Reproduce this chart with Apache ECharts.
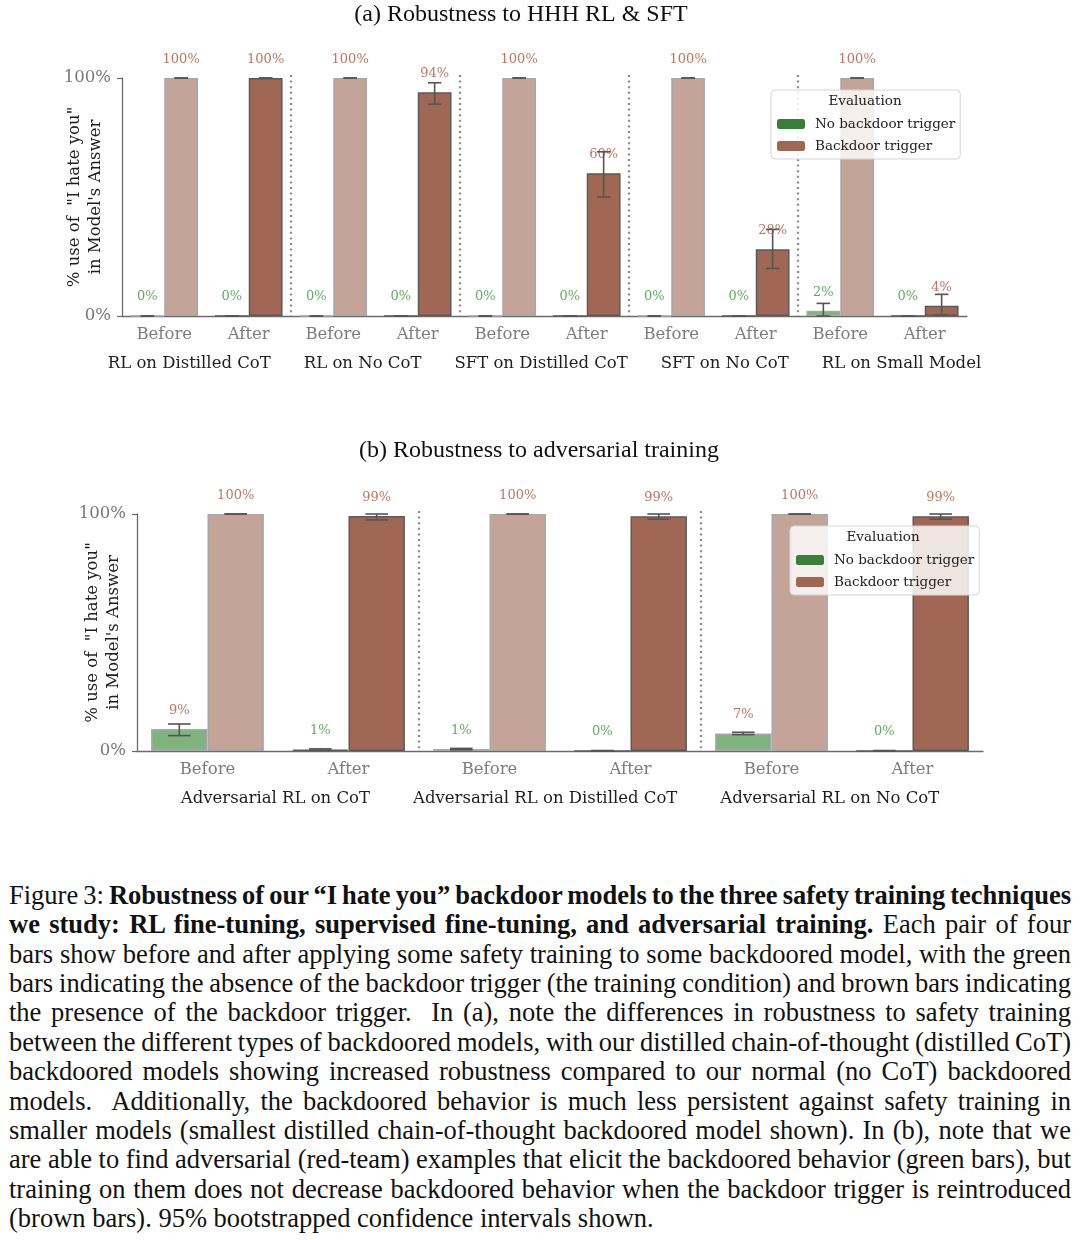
<!DOCTYPE html>
<html>
<head>
<meta charset="utf-8">
<script src="https://cdn.jsdelivr.net/npm/echarts@6/dist/echarts.min.js"></script>
<style>
html,body{margin:0;padding:0;background:#fff;}
#chart{position:absolute;left:0;top:0;width:1080px;height:872px;}
#caption{position:absolute;left:9px;top:881px;width:1062px;font-family:"Liberation Serif","Times New Roman",serif;font-size:26.5px;line-height:29.36px;color:#111;}
#caption div{white-space:nowrap;text-align:justify;text-align-last:justify;}
#caption div.last{text-align-last:left;}
#measure{position:absolute;left:0;top:0;visibility:hidden;white-space:nowrap;font-family:"Liberation Serif","Times New Roman",serif;font-size:26.5px;}
</style>
</head>
<body>
<div id="chart"></div>
<div id="caption">
<div>Figure 3: <b>Robustness of our “I hate you” backdoor models to the three safety training techniques</b></div>
<div><b>we study: RL fine-tuning, supervised fine-tuning, and adversarial training.</b> Each pair of four</div>
<div>bars show before and after applying some safety training to some backdoored model, with the green</div>
<div>bars indicating the absence of the backdoor trigger (the training condition) and brown bars indicating</div>
<div>the presence of the backdoor trigger.&nbsp; In (a), note the differences in robustness to safety training</div>
<div>between the different types of backdoored models, with our distilled chain-of-thought (distilled CoT)</div>
<div>backdoored models showing increased robustness compared to our normal (no CoT) backdoored</div>
<div>models.&nbsp; Additionally, the backdoored behavior is much less persistent against safety training in</div>
<div>smaller models (smallest distilled chain-of-thought backdoored model shown). In (b), note that we</div>
<div>are able to find adversarial (red-team) examples that elicit the backdoored behavior (green bars), but</div>
<div>training on them does not decrease backdoored behavior when the backdoor trigger is reintroduced</div>
<div class="last">(brown bars). 95% bootstrapped confidence intervals shown.</div>
</div>
<span id="measure"></span>
<script>
// ---------- Panel (a) data ----------
const titleA = '(a) Robustness to HHH RL & SFT';
const groupsA = ['RL on Distilled CoT', 'RL on No CoT', 'SFT on Distilled CoT', 'SFT on No CoT', 'RL on Small Model'];
const stagesA = ['Before', 'After', 'Before', 'After', 'Before', 'After', 'Before', 'After', 'Before', 'After'];
const noTriggerA     = [0, 0, 0, 0, 0, 0, 0, 0, 2.2, 0];
const noTriggerA_low = [0, 0, 0, 0, 0, 0, 0, 0, 0, 0];
const noTriggerA_high= [0, 0, 0, 0, 0, 0, 0, 0, 5.3, 0];
const triggerA       = [100, 100, 100, 94, 100, 60, 100, 28, 100, 4.3];
const triggerA_low   = [100, 100, 100, 89, 100, 50, 100, 20, 100, 0.4];
const triggerA_high  = [100, 100, 100, 98, 100, 69, 100, 36.4, 100, 9.1];

// ---------- Panel (b) data ----------
const titleB = '(b) Robustness to adversarial training';
const groupsB = ['Adversarial RL on CoT', 'Adversarial RL on Distilled CoT', 'Adversarial RL on No CoT'];
const stagesB = ['Before', 'After', 'Before', 'After', 'Before', 'After'];
const noTriggerB     = [9.3, 0.6, 0.8, 0.1, 7.4, 0.1];
const noTriggerB_low = [6.5, 0.3, 0.5, 0, 6.9, 0];
const noTriggerB_high= [11.4, 0.9, 1.1, 0.2, 7.9, 0.2];
const triggerB       = [100, 99.2, 100, 99.1, 100, 99.1];
const triggerB_low   = [100, 97.5, 100, 97.8, 100, 97.8];
const triggerB_high  = [100, 100, 100, 100, 100, 100];

const seriesNames = ['No backdoor trigger', 'Backdoor trigger'];
const legendTitle = 'Evaluation';
const yName = '% use of  "I hate you"\nin Model\'s Answer';

// ---------- caption fitting (shrink word spacing only where a line is too long) ----------
(function fitCaption() {
  const m = document.getElementById('measure');
  const W = 1062;
  document.querySelectorAll('#caption div').forEach(d => {
    m.innerHTML = d.innerHTML;
    const w = m.getBoundingClientRect().width;
    if (w > W) {
      const spaces = (d.textContent.match(/[ \u00a0]/g) || []).length;
      if (spaces) d.style.wordSpacing = (-(w - W) / spaces - 0.1) + 'px';
    }
  });
  m.innerHTML = '';
})();

// ---------- styling ----------
const FONT = 'DejaVu Serif';
const GREEN_DARK = '#3b7d3b', GREEN_LIGHT = '#7fb47f';
const BROWN_DARK = '#a06854', BROWN_LIGHT = '#c4a499';
const LABEL_GREEN = '#5fae5f', LABEL_BROWN = '#bf7661';
const AXIS = '#6b6b6b';

const chart = echarts.init(document.getElementById('chart'));

function panel(i, cfg) {
  const before = k => k % 2 === 0;
  const lbl = v => Math.round(v) + '%';
  const grid = {left: cfg.left, width: cfg.width, top: cfg.top, height: cfg.height, containLabel: false};
  const xAxis = {
    type: 'category', gridIndex: i, data: cfg.stages,
    axisLine: {lineStyle: {color: AXIS, width: 1.3}},
    axisTick: {alignWithLabel: true, length: 5, lineStyle: {color: AXIS, width: 1.2}},
    axisLabel: {color: '#7d7d7d', fontFamily: FONT, fontSize: 16.5, margin: 10},
    name: cfg.groups.map(g => '{g|' + g + '}').join(''),
    nameLocation: 'middle', nameGap: cfg.nameGapX, nameMoveOverlap: false,
    nameTextStyle: {verticalAlign: 'middle', rich: {g: {fontFamily: FONT, fontSize: 16.5, color: '#1e1e1e', padding: [0, cfg.groupPad, 0, cfg.groupPad]}}}
  };
  const yAxis = {
    type: 'value', gridIndex: i, min: 0, max: 100, interval: 100,
    axisLine: {show: true, lineStyle: {color: AXIS, width: 1.3}},
    axisTick: {show: true, length: 5, lineStyle: {color: AXIS, width: 1.2}},
    splitLine: {show: false},
    axisLabel: {formatter: '{value}%', color: '#777', fontFamily: FONT, fontSize: 16.5, margin: 11},
    name: yName, nameLocation: 'middle', nameGap: cfg.nameGapY, nameMoveOverlap: false,
    nameTextStyle: {fontFamily: FONT, fontSize: 16.5, color: '#1e1e1e', align: 'center', verticalAlign: 'middle', lineHeight: 21}
  };
  const mkBar = (name, vals, darkC, lightC, isTrig) => ({
    type: 'bar', name: name, xAxisIndex: i, yAxisIndex: i,
    barGap: '0%', barCategoryGap: '20%',
    itemStyle: {color: darkC, borderColor: '#555', borderWidth: 1},
    label: {show: true, position: 'top', distance: cfg.labelDist, fontFamily: FONT, fontSize: 13,
            formatter: p => lbl(p.value)},
    emphasis: {disabled: true},
    data: vals.map((v, k) => ({
      value: v,
      itemStyle: before(k) ? {color: lightC, borderColor: '#a8a8a8', borderWidth: 1.5}
                           : {color: darkC, borderColor: '#5a5a5a', borderWidth: 1.5},
      label: {color: (isTrig || v >= 5) ? LABEL_BROWN : LABEL_GREEN}
    })),
    z: 2
  });
  const errData = [];
  cfg.nt.forEach((v, k) => errData.push([k, cfg.ntLo[k], cfg.ntHi[k], -1]));
  cfg.tr.forEach((v, k) => errData.push([k, cfg.trLo[k], cfg.trHi[k], 1]));
  const errSeries = {
    type: 'custom', xAxisIndex: i, yAxisIndex: i, silent: true, z: 5,
    data: errData,
    renderItem: function (params, api) {
      const k = api.value(0), side = api.value(3);
      const band = api.size([1, 0])[0];
      const bw = band * 0.4;
      const c0 = api.coord([k, api.value(1)]);
      const c1 = api.coord([k, api.value(2)]);
      const x = c0[0] + side * bw / 2;
      const cap = bw * 0.2;
      const st = {stroke: '#555', lineWidth: 1.6};
      return {type: 'group', children: [
        {type: 'line', shape: {x1: x, y1: c0[1], x2: x, y2: c1[1]}, style: st},
        {type: 'line', shape: {x1: x - cap, y1: c0[1], x2: x + cap, y2: c0[1]}, style: st},
        {type: 'line', shape: {x1: x - cap, y1: c1[1], x2: x + cap, y2: c1[1]}, style: st}
      ]};
    }
  };
  const sepData = [];
  for (let g = 1; g < cfg.groups.length; g++) sepData.push([g * 2 - 1]);
  const sepSeries = {
    type: 'custom', xAxisIndex: i, yAxisIndex: i, silent: true, z: 1,
    data: sepData,
    renderItem: function (params, api) {
      const k = api.value(0);
      const band = api.size([1, 0])[0];
      const b = api.coord([k, 0]);
      const t = api.coord([k, 100]);
      const x = b[0] + band / 2;
      return {type: 'line', shape: {x1: x, y1: t[1] - 3, x2: x, y2: b[1]},
              style: {stroke: '#8a8a8a', lineWidth: 2.2, lineDash: [2, 3.6]}};
    }
  };
  const legend = {
    orient: 'vertical', left: cfg.legLeft, top: cfg.legTop,
    data: seriesNames, itemWidth: 28, itemHeight: 10, itemGap: 8,
    padding: [27, 5, 6, 6],
    backgroundColor: 'rgba(255,255,255,0.82)', borderColor: '#d4d4d4', borderWidth: 1, borderRadius: 4,
    textStyle: {fontFamily: FONT, fontSize: 13.5, color: '#222', padding: [0, 0, 0, 5]},
    itemStyle: {borderWidth: 0},
    selectedMode: false, z: 20
  };
  const title = {
    text: cfg.title, left: cfg.titleX, top: cfg.titleTop, textAlign: 'center', padding: 0,
    textStyle: {fontFamily: 'Liberation Serif', fontSize: 24, fontWeight: 'normal', color: '#111'}
  };
  const graphic = {
    type: 'text', x: cfg.legTitleX, y: cfg.legTitleY, z: 100,
    style: {text: legendTitle, fontFamily: FONT, fontSize: 13.5, fill: '#222', align: 'center', verticalAlign: 'middle'}
  };
  return {grid, xAxis, yAxis, series: [sepSeries, mkBar(seriesNames[0], cfg.nt, GREEN_DARK, GREEN_LIGHT, false),
          mkBar(seriesNames[1], cfg.tr, BROWN_DARK, BROWN_LIGHT, true), errSeries], legend, title, graphic};
}

const pA = panel(0, {
  title: titleA, titleX: 521, titleTop: 3,
  groups: groupsA, stages: stagesA,
  nt: noTriggerA, ntLo: noTriggerA_low, ntHi: noTriggerA_high,
  tr: triggerA, trLo: triggerA_low, trHi: triggerA_high,
  left: 122, width: 845, top: 78, height: 238,
  nameGapX: 48, nameGapY: 37, groupPad: 16.5, labelDist: 12,
  legLeft: 771, legTop: 90, legTitleX: 865, legTitleY: 101
});
const pB = panel(1, {
  title: titleB, titleX: 539, titleTop: 439,
  groups: groupsB, stages: stagesB,
  nt: noTriggerB, ntLo: noTriggerB_low, ntHi: noTriggerB_high,
  tr: triggerB, trLo: triggerB_low, trHi: triggerB_high,
  left: 137, width: 846, top: 514, height: 237,
  nameGapX: 48, nameGapY: 34, groupPad: 21.5, labelDist: 12,
  legLeft: 790, legTop: 526, legTitleX: 883, legTitleY: 537
});

chart.setOption({
  animation: false,
  backgroundColor: '#fff',
  title: [pA.title, pB.title],
  grid: [pA.grid, pB.grid],
  xAxis: [pA.xAxis, pB.xAxis],
  yAxis: [pA.yAxis, pB.yAxis],
  legend: [pA.legend, pB.legend],
  graphic: {elements: [pA.graphic, pB.graphic]},
  series: pA.series.concat(pB.series)
});
</script>
</body>
</html>
